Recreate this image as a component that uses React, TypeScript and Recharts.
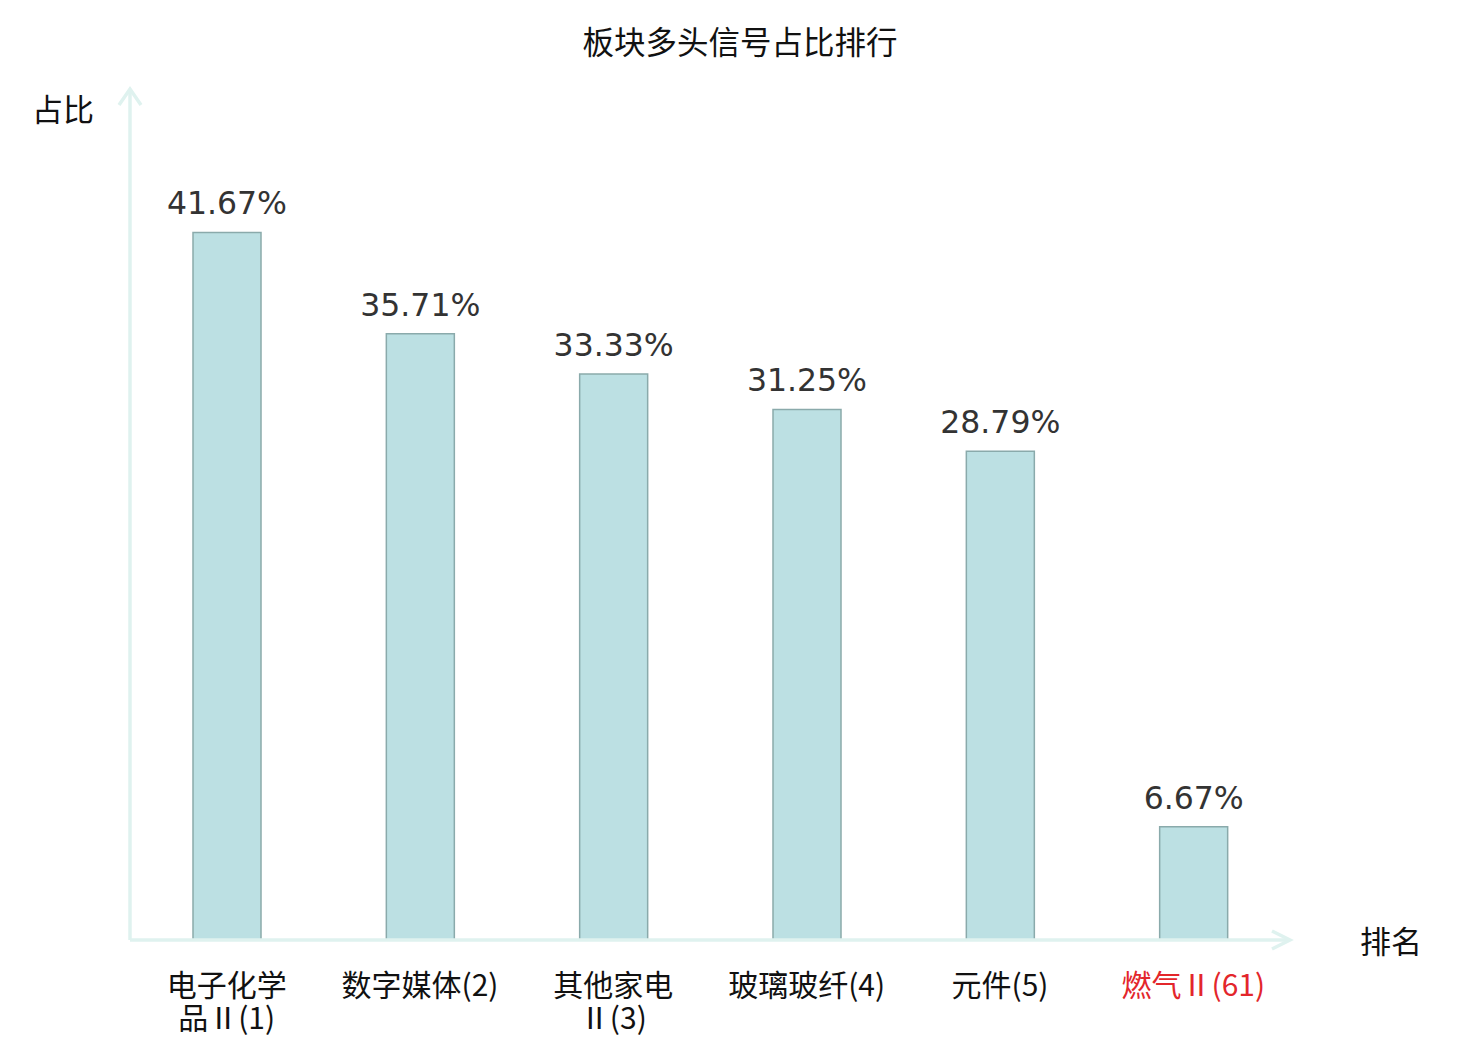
import React from 'react'
import { BarChart, Bar, XAxis, YAxis, LabelList } from 'recharts'

document.body.style.margin = '0'

const categories = ['电子化学品Ⅱ(1)', '数字媒体(2)', '其他家电Ⅱ(3)', '玻璃玻纤(4)', '元件(5)', '燃气Ⅱ(61)']
const tickLines = [['电子化学', '品Ⅱ(1)'], ['数字媒体(2)'], ['其他家电', 'Ⅱ(3)'], ['玻璃玻纤(4)'], ['元件(5)'], ['燃气Ⅱ(61)']]
const values = [41.67, 35.71, 33.33, 31.25, 28.79, 6.67]
const highlight = [false, false, false, false, false, true]

const data = categories.map((c, i) => ({ name: c, value: values[i], idx: i }))

const W = 1480
const H = 1040
const XH = 60
const YW = 10
const M = { top: 91, right: 190, bottom: 100 - XH, left: 130 - YW }
const AX = '#dff2ef'
const CJK = '"Noto Sans CJK SC", "DejaVu Sans", sans-serif'

function Tick(props: any) {
  const { x, y, index } = props
  const lines = tickLines[index] || []
  return (
    <text x={x} y={y} textAnchor='middle' fontFamily={CJK} fontSize={30}
      fill={highlight[index] ? '#e3262b' : '#111'}>
      {lines.map((l, i) => (
        <tspan key={i} x={x} dy={i === 0 ? 50 : 33}>{l}</tspan>
      ))}
    </text>
  )
}

export default function App() {
  const x0 = 130, y0 = H - 100, x1 = W - M.right, yTop = M.top - 2
  return (
    <div style={{ position: 'relative', width: W, height: H, background: '#fff' }}>
      <div style={{ position: 'absolute', top: 17, width: W, textAlign: 'center',
        fontFamily: CJK, fontSize: 31.5, color: '#111' }}>板块多头信号占比排行</div>
      <BarChart width={W} height={H} data={data} margin={M}>
        <XAxis dataKey='name' interval={0} tickLine={false} tick={<Tick />} height={XH}
          tickMargin={0} axisLine={{ stroke: AX, strokeWidth: 3.5 }} />
        <YAxis domain={[0, 50]} width={YW} tick={false} tickLine={false}
          axisLine={{ stroke: AX, strokeWidth: 3.5 }} />
        <Bar dataKey='value' barSize={68} fill='#bce0e3' stroke='#8aaaab' strokeWidth={1.5}
          isAnimationActive={false}>
          <LabelList dataKey='value' position='top' offset={18}
            formatter={(v: any) => `${Number(v).toFixed(2)}%`}
            style={{ fontFamily: '"DejaVu Sans", sans-serif', fontSize: 31.5, fill: '#333' }} />
        </Bar>
      </BarChart>
      <svg width={W} height={H} style={{ position: 'absolute', left: 0, top: 0, pointerEvents: 'none' }}>
        <polyline points={`${x0 - 11},${yTop + 16} ${x0},${yTop} ${x0 + 11},${yTop + 16}`}
          fill='none' stroke={AX} strokeWidth={3.5} />
        <polyline points={`${x1 - 18},${y0 - 9} ${x1},${y0} ${x1 - 18},${y0 + 9}`}
          fill='none' stroke={AX} strokeWidth={3.5} />
        <text x={63} y={121} textAnchor='middle' fontFamily={CJK} fontSize={31} fill='#111'>占比</text>
        <text x={1391} y={953} textAnchor='middle' fontFamily={CJK} fontSize={31} fill='#111'>排名</text>
      </svg>
    </div>
  )
}
